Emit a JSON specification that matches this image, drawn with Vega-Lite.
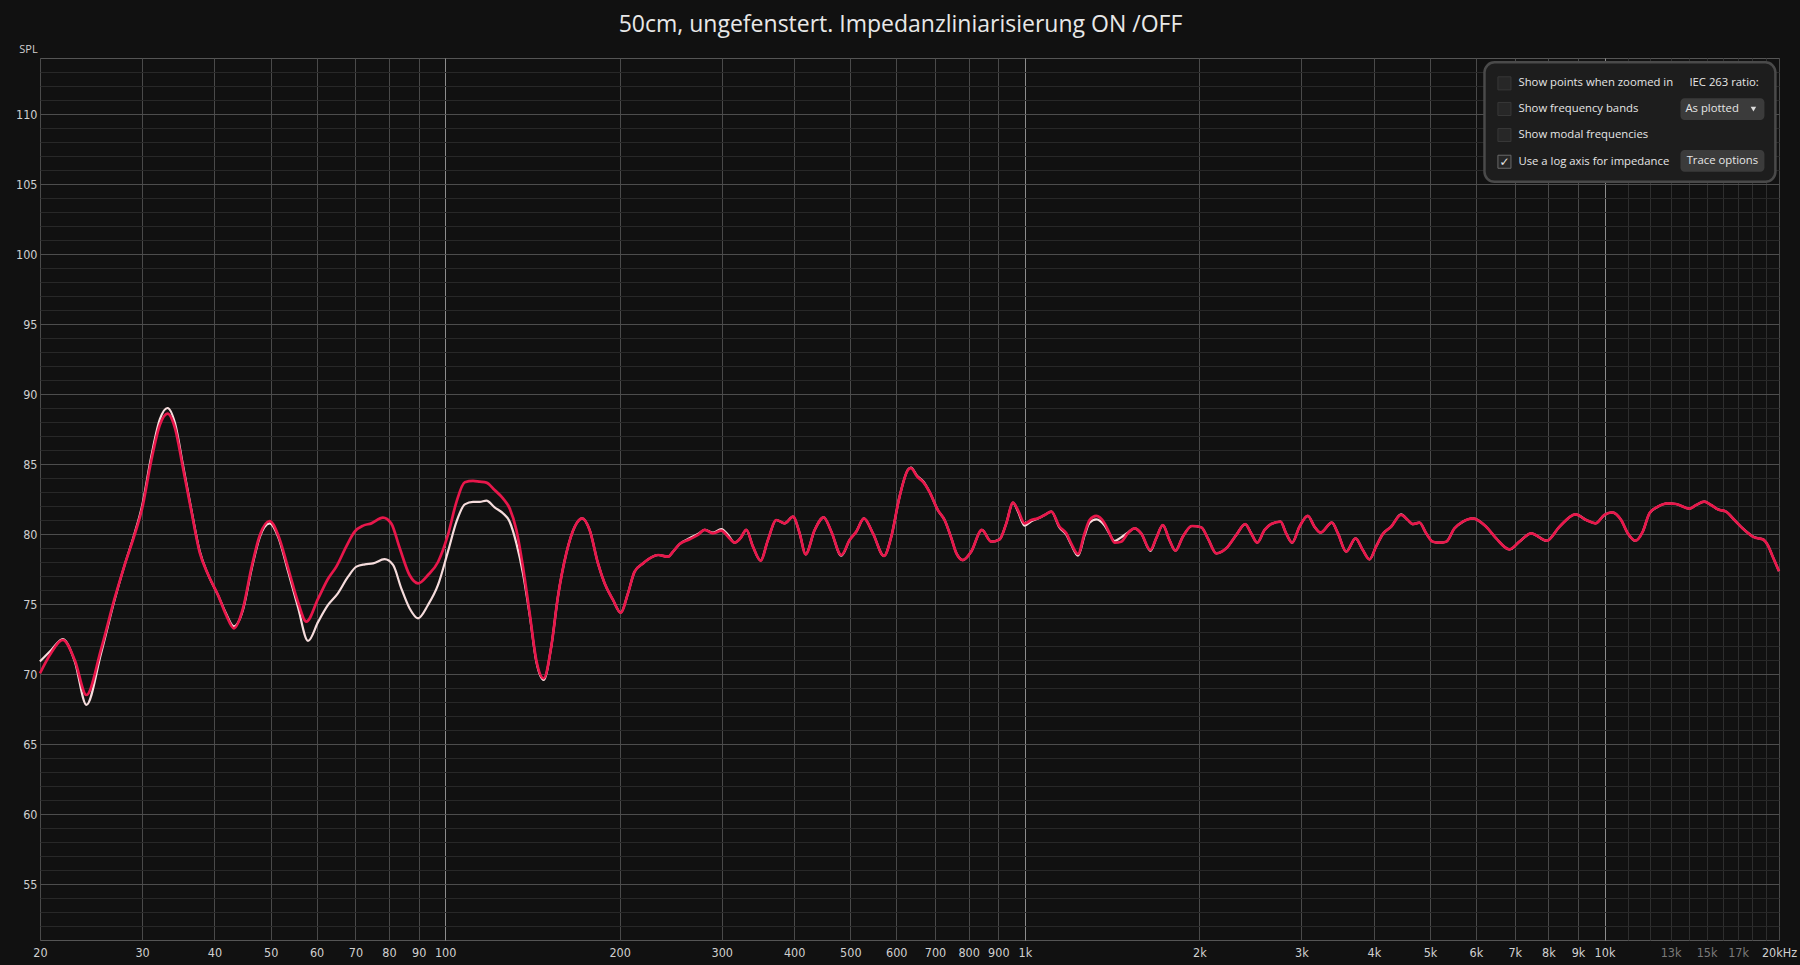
{
  "$schema": "https://vega.github.io/schema/vega-lite/v6.json",
  "width": 1739,
  "height": 882,
  "autosize": {"type": "none"},
  "padding": {"left": 40, "top": 58, "right": 21, "bottom": 25},
  "background": "#111111",
  "title": {
    "text": "50cm, ungefenstert. Impedanzliniarisierung ON /OFF",
    "anchor": "middle",
    "frame": "group",
    "dx": -9,
    "offset": 6,
    "font": "Open Sans",
    "fontSize": 23,
    "fontWeight": "normal",
    "color": "#e8e8e8"
  },
  "config": {
    "view": {"stroke": "#555555", "strokeWidth": 1, "fill": "#111111"},
    "axis": {
      "domain": false,
      "ticks": false,
      "labelFont": "Liberation Sans Narrow, DejaVu Sans Condensed, Roboto, sans-serif",
      "labelFontSize": 12.5,
      "labelColor": "#cfcfcf",
      "gridWidth": 1,
      "tickCount": 500
    }
  },
  "datasets": {
    "impedanz_on": [
      {"f": 20, "spl": 70.05}, {"f": 20.9, "spl": 71.5}, {"f": 21.9, "spl": 72.43}, {"f": 22.96, "spl": 71.0}, {"f": 24.05, "spl": 68.5},
      {"f": 25.5, "spl": 71.8}, {"f": 26.9, "spl": 75.4}, {"f": 28.0, "spl": 77.8}, {"f": 29.1, "spl": 79.9}, {"f": 30.0, "spl": 81.8},
      {"f": 31.1, "spl": 85.2}, {"f": 32.2, "spl": 87.8}, {"f": 33.2, "spl": 88.6}, {"f": 34.2, "spl": 87.55}, {"f": 35.3, "spl": 84.7},
      {"f": 36.5, "spl": 81.6}, {"f": 37.7, "spl": 78.7}, {"f": 39.0, "spl": 77.1}, {"f": 40.6, "spl": 75.6}, {"f": 41.9, "spl": 74.2},
      {"f": 43.2, "spl": 73.26}, {"f": 44.8, "spl": 74.7}, {"f": 46.3, "spl": 77.55}, {"f": 47.9, "spl": 79.93}, {"f": 49.8, "spl": 80.93},
      {"f": 51.5, "spl": 79.93}, {"f": 53.6, "spl": 77.55}, {"f": 55.7, "spl": 75.17}, {"f": 57.6, "spl": 73.74}, {"f": 60.4, "spl": 75.4},
      {"f": 62.8, "spl": 76.8}, {"f": 64.9, "spl": 77.67}, {"f": 67.5, "spl": 79.1}, {"f": 69.8, "spl": 80.17}, {"f": 72.2, "spl": 80.6},
      {"f": 74.6, "spl": 80.76}, {"f": 78.1, "spl": 81.17}, {"f": 80.7, "spl": 80.76}, {"f": 83.5, "spl": 78.98}, {"f": 86.8, "spl": 77.07},
      {"f": 89.8, "spl": 76.48}, {"f": 93.4, "spl": 77.07}, {"f": 97.2, "spl": 78.0}, {"f": 101.1, "spl": 79.93}, {"f": 104.6, "spl": 82.3},
      {"f": 108.1, "spl": 83.7}, {"f": 111.7, "spl": 83.8}, {"f": 114.7, "spl": 83.74}, {"f": 117.8, "spl": 83.67}, {"f": 121.7, "spl": 83.14},
      {"f": 125.8, "spl": 82.55}, {"f": 129.2, "spl": 81.83}, {"f": 132.7, "spl": 80.29}, {"f": 136.2, "spl": 77.67}, {"f": 139.9, "spl": 74.33},
      {"f": 143.6, "spl": 71.0}, {"f": 147.9, "spl": 69.69}, {"f": 152.4, "spl": 71.95}, {"f": 156.5, "spl": 75.52}, {"f": 161.8, "spl": 78.62},
      {"f": 167.3, "spl": 80.52}, {"f": 172.4, "spl": 81.12}, {"f": 177.5, "spl": 80.29}, {"f": 183.5, "spl": 77.9}, {"f": 188.4, "spl": 76.48},
      {"f": 194.8, "spl": 75.29}, {"f": 200.8, "spl": 74.38}, {"f": 206.7, "spl": 75.76}, {"f": 212.2, "spl": 77.31}, {"f": 219.5, "spl": 77.9},
      {"f": 226.8, "spl": 78.33}, {"f": 233.0, "spl": 78.5}, {"f": 242.4, "spl": 78.38}, {"f": 247.2, "spl": 78.74}, {"f": 253.8, "spl": 79.29},
      {"f": 264.1, "spl": 79.62}, {"f": 272.9, "spl": 79.93}, {"f": 280.3, "spl": 80.29}, {"f": 289.7, "spl": 80.05}, {"f": 299.5, "spl": 80.24},
      {"f": 307.6, "spl": 79.81}, {"f": 315.8, "spl": 79.38}, {"f": 323.0, "spl": 79.69}, {"f": 330.8, "spl": 80.29}, {"f": 339.6, "spl": 79.1},
      {"f": 350.1, "spl": 78.1}, {"f": 360.4, "spl": 79.57}, {"f": 372.6, "spl": 81.0}, {"f": 385.2, "spl": 80.76}, {"f": 398.2, "spl": 81.24},
      {"f": 408.8, "spl": 80.05}, {"f": 418.6, "spl": 78.55}, {"f": 434.0, "spl": 80.29}, {"f": 449.7, "spl": 81.19}, {"f": 463.6, "spl": 80.17},
      {"f": 482.4, "spl": 78.5}, {"f": 498.6, "spl": 79.57}, {"f": 512.0, "spl": 80.17}, {"f": 527.8, "spl": 81.12}, {"f": 546.9, "spl": 80.05},
      {"f": 571.5, "spl": 78.43}, {"f": 588.3, "spl": 79.81}, {"f": 608.0, "spl": 82.67}, {"f": 628.6, "spl": 84.57}, {"f": 636, "spl": 84.7},
      {"f": 652, "spl": 84.1}, {"f": 668, "spl": 83.7}, {"f": 685, "spl": 83.0}, {"f": 708, "spl": 81.7}, {"f": 727, "spl": 81.0},
      {"f": 747, "spl": 79.69}, {"f": 762, "spl": 78.62}, {"f": 782, "spl": 78.14}, {"f": 808, "spl": 78.74}, {"f": 843, "spl": 80.29},
      {"f": 875, "spl": 79.45}, {"f": 905, "spl": 79.62}, {"f": 929, "spl": 80.76}, {"f": 954, "spl": 82.24}, {"f": 973, "spl": 81.71},
      {"f": 999, "spl": 80.76}, {"f": 1026, "spl": 81.0}, {"f": 1053, "spl": 81.12}, {"f": 1082, "spl": 81.36}, {"f": 1111, "spl": 81.6},
      {"f": 1148, "spl": 80.52}, {"f": 1179, "spl": 80.05}, {"f": 1202, "spl": 79.33}, {"f": 1235, "spl": 78.57}, {"f": 1268, "spl": 80.05},
      {"f": 1293, "spl": 81.0}, {"f": 1328, "spl": 81.29}, {"f": 1373, "spl": 80.76}, {"f": 1400, "spl": 80.05}, {"f": 1428, "spl": 79.38},
      {"f": 1466, "spl": 79.45}, {"f": 1506, "spl": 80.05}, {"f": 1546, "spl": 80.4}, {"f": 1587, "spl": 80.05}, {"f": 1647, "spl": 78.86},
      {"f": 1685, "spl": 79.69}, {"f": 1730, "spl": 80.64}, {"f": 1776, "spl": 79.57}, {"f": 1819, "spl": 78.81}, {"f": 1873, "spl": 79.81},
      {"f": 1941, "spl": 80.57}, {"f": 2015, "spl": 80.48}, {"f": 2069, "spl": 79.69}, {"f": 2139, "spl": 78.62}, {"f": 2226, "spl": 78.98},
      {"f": 2316, "spl": 79.93}, {"f": 2400, "spl": 80.71}, {"f": 2457, "spl": 80.05}, {"f": 2517, "spl": 79.38}, {"f": 2592, "spl": 80.29},
      {"f": 2661, "spl": 80.71}, {"f": 2761, "spl": 80.88}, {"f": 2823, "spl": 80.05}, {"f": 2892, "spl": 79.38}, {"f": 2977, "spl": 80.52},
      {"f": 3078, "spl": 81.29}, {"f": 3160, "spl": 80.52}, {"f": 3236, "spl": 80.1}, {"f": 3386, "spl": 80.81}, {"f": 3468, "spl": 80.05},
      {"f": 3584, "spl": 78.74}, {"f": 3720, "spl": 79.69}, {"f": 3828, "spl": 78.86}, {"f": 3932, "spl": 78.19}, {"f": 4036, "spl": 79.1},
      {"f": 4146, "spl": 80.0}, {"f": 4284, "spl": 80.52}, {"f": 4458, "spl": 81.36}, {"f": 4578, "spl": 81.0}, {"f": 4670, "spl": 80.71},
      {"f": 4796, "spl": 80.81}, {"f": 4924, "spl": 80.05}, {"f": 5056, "spl": 79.45}, {"f": 5192, "spl": 79.38}, {"f": 5332, "spl": 79.45},
      {"f": 5510, "spl": 80.4}, {"f": 5696, "spl": 80.88}, {"f": 5928, "spl": 81.12}, {"f": 6250, "spl": 80.52}, {"f": 6502, "spl": 79.69},
      {"f": 6854, "spl": 78.9}, {"f": 7132, "spl": 79.45}, {"f": 7470, "spl": 80.05}, {"f": 7950, "spl": 79.52}, {"f": 8362, "spl": 80.52},
      {"f": 8914, "spl": 81.4}, {"f": 9300, "spl": 81.0}, {"f": 9650, "spl": 80.76}, {"f": 9996, "spl": 81.36}, {"f": 10306, "spl": 81.55},
      {"f": 10682, "spl": 81.0}, {"f": 10968, "spl": 80.05}, {"f": 11308, "spl": 79.52}, {"f": 11642, "spl": 80.17}, {"f": 11956, "spl": 81.48},
      {"f": 12356, "spl": 81.95}, {"f": 12858, "spl": 82.19}, {"f": 13290, "spl": 82.14}, {"f": 14012, "spl": 81.81}, {"f": 14388, "spl": 82.07},
      {"f": 14870, "spl": 82.31}, {"f": 15270, "spl": 82.07}, {"f": 15680, "spl": 81.76}, {"f": 16208, "spl": 81.6}, {"f": 16754, "spl": 81.0},
      {"f": 17316, "spl": 80.4}, {"f": 18140, "spl": 79.76}, {"f": 18752, "spl": 79.62}, {"f": 19126, "spl": 79.21}, {"f": 19510, "spl": 78.38},
      {"f": 20000, "spl": 77.35}
    ],
    "impedanz_off": [
      {"f": 20, "spl": 70.9}, {"f": 20.9, "spl": 71.7}, {"f": 21.9, "spl": 72.5}, {"f": 22.96, "spl": 70.9}, {"f": 24.05, "spl": 67.8},
      {"f": 25.5, "spl": 71.5}, {"f": 26.9, "spl": 75.3}, {"f": 28.0, "spl": 77.8}, {"f": 29.1, "spl": 80.0}, {"f": 30.0, "spl": 82.0},
      {"f": 31.1, "spl": 85.5}, {"f": 32.2, "spl": 88.2}, {"f": 33.2, "spl": 89.0}, {"f": 34.2, "spl": 87.9}, {"f": 35.3, "spl": 84.9},
      {"f": 36.5, "spl": 81.7}, {"f": 37.7, "spl": 78.8}, {"f": 39.0, "spl": 77.1}, {"f": 40.6, "spl": 75.6}, {"f": 41.9, "spl": 74.3},
      {"f": 43.2, "spl": 73.4}, {"f": 44.8, "spl": 74.6}, {"f": 46.3, "spl": 77.4}, {"f": 47.9, "spl": 79.8}, {"f": 49.8, "spl": 80.76},
      {"f": 51.5, "spl": 79.8}, {"f": 53.6, "spl": 77.3}, {"f": 55.7, "spl": 74.8}, {"f": 58.0, "spl": 72.36}, {"f": 60.4, "spl": 73.74},
      {"f": 62.8, "spl": 74.93}, {"f": 65.3, "spl": 75.76}, {"f": 68.0, "spl": 76.95}, {"f": 70.3, "spl": 77.67}, {"f": 72.7, "spl": 77.83},
      {"f": 75.1, "spl": 77.9}, {"f": 78.6, "spl": 78.2}, {"f": 81.3, "spl": 77.79}, {"f": 84.0, "spl": 76.12}, {"f": 86.8, "spl": 74.7},
      {"f": 89.8, "spl": 73.98}, {"f": 93.4, "spl": 74.93}, {"f": 97.2, "spl": 76.36}, {"f": 101.1, "spl": 78.74}, {"f": 104.6, "spl": 80.88},
      {"f": 108.1, "spl": 82.12}, {"f": 111.7, "spl": 82.3}, {"f": 114.7, "spl": 82.3}, {"f": 117.8, "spl": 82.38}, {"f": 121.7, "spl": 81.9},
      {"f": 125.8, "spl": 81.48}, {"f": 129.2, "spl": 80.88}, {"f": 132.7, "spl": 79.33}, {"f": 136.2, "spl": 77.19}, {"f": 139.9, "spl": 74.2},
      {"f": 143.6, "spl": 70.9}, {"f": 147.9, "spl": 69.57}, {"f": 152.4, "spl": 71.95}, {"f": 156.5, "spl": 75.52}, {"f": 161.8, "spl": 78.62},
      {"f": 167.3, "spl": 80.52}, {"f": 172.4, "spl": 81.12}, {"f": 177.5, "spl": 80.29}, {"f": 183.5, "spl": 77.9}, {"f": 188.4, "spl": 76.48},
      {"f": 194.8, "spl": 75.29}, {"f": 200.8, "spl": 74.38}, {"f": 206.7, "spl": 75.76}, {"f": 212.2, "spl": 77.31}, {"f": 219.5, "spl": 77.9},
      {"f": 226.8, "spl": 78.33}, {"f": 233.0, "spl": 78.5}, {"f": 242.4, "spl": 78.38}, {"f": 247.2, "spl": 78.74}, {"f": 253.8, "spl": 79.29},
      {"f": 264.1, "spl": 79.7}, {"f": 272.9, "spl": 80.0}, {"f": 280.3, "spl": 80.29}, {"f": 289.7, "spl": 80.1}, {"f": 299.5, "spl": 80.35},
      {"f": 307.6, "spl": 79.95}, {"f": 315.8, "spl": 79.38}, {"f": 323.0, "spl": 79.69}, {"f": 330.8, "spl": 80.29}, {"f": 339.6, "spl": 79.1},
      {"f": 350.1, "spl": 78.1}, {"f": 360.4, "spl": 79.57}, {"f": 372.6, "spl": 81.0}, {"f": 385.2, "spl": 80.76}, {"f": 398.2, "spl": 81.24},
      {"f": 408.8, "spl": 80.05}, {"f": 418.6, "spl": 78.55}, {"f": 434.0, "spl": 80.29}, {"f": 449.7, "spl": 81.19}, {"f": 463.6, "spl": 80.17},
      {"f": 482.4, "spl": 78.45}, {"f": 498.6, "spl": 79.57}, {"f": 512.0, "spl": 80.17}, {"f": 527.8, "spl": 81.12}, {"f": 546.9, "spl": 80.05},
      {"f": 571.5, "spl": 78.43}, {"f": 588.3, "spl": 79.81}, {"f": 608.0, "spl": 82.67}, {"f": 628.6, "spl": 84.6}, {"f": 636, "spl": 84.75},
      {"f": 652, "spl": 84.15}, {"f": 668, "spl": 83.75}, {"f": 685, "spl": 83.0}, {"f": 708, "spl": 81.7}, {"f": 727, "spl": 81.0},
      {"f": 747, "spl": 79.69}, {"f": 762, "spl": 78.62}, {"f": 782, "spl": 78.14}, {"f": 808, "spl": 78.74}, {"f": 843, "spl": 80.29},
      {"f": 875, "spl": 79.45}, {"f": 905, "spl": 79.62}, {"f": 929, "spl": 80.76}, {"f": 954, "spl": 82.24}, {"f": 973, "spl": 81.6},
      {"f": 999, "spl": 80.6}, {"f": 1026, "spl": 80.9}, {"f": 1053, "spl": 81.1}, {"f": 1082, "spl": 81.36}, {"f": 1111, "spl": 81.6},
      {"f": 1148, "spl": 80.45}, {"f": 1179, "spl": 79.95}, {"f": 1202, "spl": 79.25}, {"f": 1235, "spl": 78.45}, {"f": 1268, "spl": 79.9},
      {"f": 1293, "spl": 80.8}, {"f": 1328, "spl": 81.05}, {"f": 1373, "spl": 80.6}, {"f": 1400, "spl": 80.0}, {"f": 1428, "spl": 79.5},
      {"f": 1466, "spl": 79.76}, {"f": 1506, "spl": 80.1}, {"f": 1546, "spl": 80.4}, {"f": 1587, "spl": 80.05}, {"f": 1647, "spl": 78.8},
      {"f": 1685, "spl": 79.69}, {"f": 1730, "spl": 80.64}, {"f": 1776, "spl": 79.57}, {"f": 1819, "spl": 78.81}, {"f": 1873, "spl": 79.81},
      {"f": 1941, "spl": 80.57}, {"f": 2015, "spl": 80.48}, {"f": 2069, "spl": 79.69}, {"f": 2139, "spl": 78.62}, {"f": 2226, "spl": 78.98},
      {"f": 2316, "spl": 79.93}, {"f": 2400, "spl": 80.71}, {"f": 2457, "spl": 80.05}, {"f": 2517, "spl": 79.38}, {"f": 2592, "spl": 80.29},
      {"f": 2661, "spl": 80.71}, {"f": 2761, "spl": 80.88}, {"f": 2823, "spl": 80.05}, {"f": 2892, "spl": 79.38}, {"f": 2977, "spl": 80.52},
      {"f": 3078, "spl": 81.29}, {"f": 3160, "spl": 80.52}, {"f": 3236, "spl": 80.1}, {"f": 3386, "spl": 80.81}, {"f": 3468, "spl": 80.05},
      {"f": 3584, "spl": 78.74}, {"f": 3720, "spl": 79.69}, {"f": 3828, "spl": 78.86}, {"f": 3932, "spl": 78.19}, {"f": 4036, "spl": 79.1},
      {"f": 4146, "spl": 80.0}, {"f": 4284, "spl": 80.52}, {"f": 4458, "spl": 81.4}, {"f": 4578, "spl": 81.0}, {"f": 4670, "spl": 80.71},
      {"f": 4796, "spl": 80.81}, {"f": 4924, "spl": 80.05}, {"f": 5056, "spl": 79.45}, {"f": 5192, "spl": 79.38}, {"f": 5332, "spl": 79.45},
      {"f": 5510, "spl": 80.4}, {"f": 5696, "spl": 80.88}, {"f": 5928, "spl": 81.12}, {"f": 6250, "spl": 80.52}, {"f": 6502, "spl": 79.69},
      {"f": 6854, "spl": 78.9}, {"f": 7132, "spl": 79.45}, {"f": 7470, "spl": 80.05}, {"f": 7950, "spl": 79.52}, {"f": 8362, "spl": 80.52},
      {"f": 8914, "spl": 81.4}, {"f": 9300, "spl": 81.0}, {"f": 9650, "spl": 80.76}, {"f": 9996, "spl": 81.36}, {"f": 10306, "spl": 81.55},
      {"f": 10682, "spl": 81.0}, {"f": 10968, "spl": 80.05}, {"f": 11308, "spl": 79.52}, {"f": 11642, "spl": 80.17}, {"f": 11956, "spl": 81.48},
      {"f": 12356, "spl": 81.95}, {"f": 12858, "spl": 82.19}, {"f": 13290, "spl": 82.14}, {"f": 14012, "spl": 81.81}, {"f": 14388, "spl": 82.07},
      {"f": 14870, "spl": 82.31}, {"f": 15270, "spl": 82.07}, {"f": 15680, "spl": 81.76}, {"f": 16208, "spl": 81.6}, {"f": 16754, "spl": 81.0},
      {"f": 17316, "spl": 80.4}, {"f": 18140, "spl": 79.76}, {"f": 18752, "spl": 79.62}, {"f": 19126, "spl": 79.21}, {"f": 19510, "spl": 78.38},
      {"f": 20000, "spl": 77.35}
    ],
    "panel_box": [{"f": 6208, "f_end": 19716, "spl": 113.69, "spl_end": 105.16}],
    "panel_options": [
      {"option": "Show points when zoomed in", "spl": 112.19, "checked": false},
      {"option": "Show frequency bands", "spl": 110.36, "checked": false},
      {"option": "Show modal frequencies", "spl": 108.5, "checked": false},
      {"option": "Use a log axis for impedance", "spl": 106.59, "checked": true}
    ],
    "panel_buttons": [
      {"button": "As plotted", "spl": 111.12, "spl_end": 109.57},
      {"button": "Trace options", "spl": 107.43, "spl_end": 105.88}
    ]
  },
  "layer": [
    {
      "data": {"name": "impedanz_off"},
      "mark": {"type": "line", "interpolate": "monotone", "color": "#f6dcdc", "strokeWidth": 2.2},
      "encoding": {
        "x": {
          "field": "f", "type": "quantitative",
          "scale": {"type": "log", "domain": [20, 20000], "nice": false},
          "axis": {
            "title": null,
            "grid": true,
            "tickCount": 500,
            "values": [20, 30, 40, 50, 60, 70, 80, 90, 100, 200, 300, 400, 500, 600, 700, 800, 900, 1000, 2000, 3000, 4000, 5000, 6000, 7000, 8000, 9000, 10000, 11000, 12000, 13000, 14000, 15000, 16000, 17000, 18000, 19000, 20000],
            "gridColor": {"condition": [{"test": "datum.value === 100 || datum.value === 1000 || datum.value === 10000", "value": "#8c8c8c"}, {"test": "datum.value > 10000 && datum.value < 20000", "value": "#2e2e2e"}], "value": "#4a4a4a"},
            "labelExpr": "datum.value >= 20000 ? '20kHz' : (indexof([11000, 12000, 14000, 16000, 18000, 19000], datum.value) >= 0 ? '' : (datum.value >= 1000 ? (datum.value / 1000) + 'k' : '' + datum.value))",
            "labelColor": {"condition": {"test": "datum.value === 13000 || datum.value === 15000 || datum.value === 17000", "value": "#7a7a7a"}, "value": "#d0d0d0"},
            "labelOverlap": false,
            "labelFlush": false,
            "labelBound": false,
            "labelPadding": 6
          }
        },
        "y": {
          "field": "spl", "type": "quantitative",
          "scale": {"domain": [51, 114], "nice": false, "zero": false},
          "axis": {
            "title": "SPL",
            "titleAngle": 0,
            "titleX": -12,
            "titleY": -9,
            "titleAlign": "center",
            "titleBaseline": "middle",
            "titleFont": "Open Sans",
            "titleFontSize": 11,
            "titleFontWeight": "normal",
            "titleColor": "#d0d0d0",
            "grid": true,
            "tickCount": 500,
            "values": [52, 53, 54, 55, 56, 57, 58, 59, 60, 61, 62, 63, 64, 65, 66, 67, 68, 69, 70, 71, 72, 73, 74, 75, 76, 77, 78, 79, 80, 81, 82, 83, 84, 85, 86, 87, 88, 89, 90, 91, 92, 93, 94, 95, 96, 97, 98, 99, 100, 101, 102, 103, 104, 105, 106, 107, 108, 109, 110, 111, 112, 113],
            "gridColor": {"condition": {"test": "datum.value % 5 === 0", "value": "#4d4d4d"}, "value": "#282828"},
            "labelExpr": "datum.value % 5 === 0 && datum.value >= 55 && datum.value <= 110 ? '' + datum.value : ''",
            "labelOverlap": false,
            "labelPadding": 3
          }
        }
      }
    },
    {
      "data": {"name": "impedanz_on"},
      "mark": {"type": "line", "interpolate": "monotone", "color": "#e8174b", "strokeWidth": 2.7},
      "encoding": {
        "x": {"field": "f", "type": "quantitative"},
        "y": {"field": "spl", "type": "quantitative"}
      }
    },
    {
      "data": {"name": "panel_box"},
      "mark": {"type": "rect", "fill": "#1d1d1d", "stroke": "#4a4a4a", "strokeWidth": 2.5, "cornerRadius": 10},
      "encoding": {
        "x": {"field": "f", "type": "quantitative"},
        "x2": {"field": "f_end"},
        "y": {"field": "spl", "type": "quantitative"},
        "y2": {"field": "spl_end"}
      }
    },
    {
      "data": {"name": "panel_buttons"},
      "mark": {"type": "rect", "fill": "#3b3b3b", "cornerRadius": 4},
      "encoding": {
        "x": {"datum": 13523, "type": "quantitative"},
        "x2": {"datum": 18874},
        "y": {"field": "spl", "type": "quantitative"},
        "y2": {"field": "spl_end"}
      }
    },
    {
      "data": {"name": "panel_buttons"},
      "transform": [{"filter": "datum.button === 'As plotted'"}],
      "mark": {"type": "text", "align": "left", "baseline": "middle", "font": "Open Sans", "fontSize": 11.3, "color": "#e6e6e6"},
      "encoding": {
        "x": {"datum": 13794, "type": "quantitative"},
        "y": {"datum": 110.35, "type": "quantitative"},
        "text": {"field": "button"}
      }
    },
    {
      "data": {"name": "panel_buttons"},
      "transform": [{"filter": "datum.button === 'Trace options'"}],
      "mark": {"type": "text", "align": "center", "baseline": "middle", "font": "Open Sans", "fontSize": 11.3, "color": "#e6e6e6"},
      "encoding": {
        "x": {"datum": 15972, "type": "quantitative"},
        "y": {"datum": 106.65, "type": "quantitative"},
        "text": {"field": "button"}
      }
    },
    {
      "data": {"name": "panel_buttons"},
      "transform": [{"filter": "datum.button === 'As plotted'"}],
      "mark": {"type": "point", "shape": "triangle-down", "filled": true, "size": 30, "color": "#dddddd", "opacity": 1},
      "encoding": {
        "x": {"datum": 18068, "type": "quantitative"},
        "y": {"datum": 110.35, "type": "quantitative"}
      }
    },
    {
      "data": {"values": [{"label": "IEC 263 ratio:"}]},
      "mark": {"type": "text", "align": "left", "baseline": "middle", "font": "Open Sans", "fontSize": 11.3, "color": "#e6e6e6"},
      "encoding": {
        "x": {"datum": 14012, "type": "quantitative"},
        "y": {"datum": 112.19, "type": "quantitative"},
        "text": {"field": "label"}
      }
    },
    {
      "data": {"name": "panel_options"},
      "mark": {"type": "point", "shape": "square", "filled": true, "size": 170, "fill": "#272727", "strokeWidth": 1, "opacity": 1},
      "encoding": {
        "x": {"datum": 6720, "type": "quantitative"},
        "y": {"field": "spl", "type": "quantitative"},
        "stroke": {"condition": {"test": "datum.checked", "value": "#6a6a6a"}, "value": "#383838"}
      }
    },
    {
      "data": {"name": "panel_options"},
      "transform": [{"filter": "datum.checked"}],
      "mark": {"type": "text", "align": "center", "baseline": "middle", "font": "DejaVu Sans", "fontSize": 12, "color": "#e6e6e6", "text": "✓"},
      "encoding": {
        "x": {"datum": 6720, "type": "quantitative"},
        "y": {"field": "spl", "type": "quantitative"}
      }
    },
    {
      "data": {"name": "panel_options"},
      "mark": {"type": "text", "align": "left", "baseline": "middle", "font": "Open Sans", "fontSize": 11.3, "color": "#e6e6e6"},
      "encoding": {
        "x": {"datum": 7105, "type": "quantitative"},
        "y": {"field": "spl", "type": "quantitative"},
        "text": {"field": "option"}
      }
    }
  ]
}
